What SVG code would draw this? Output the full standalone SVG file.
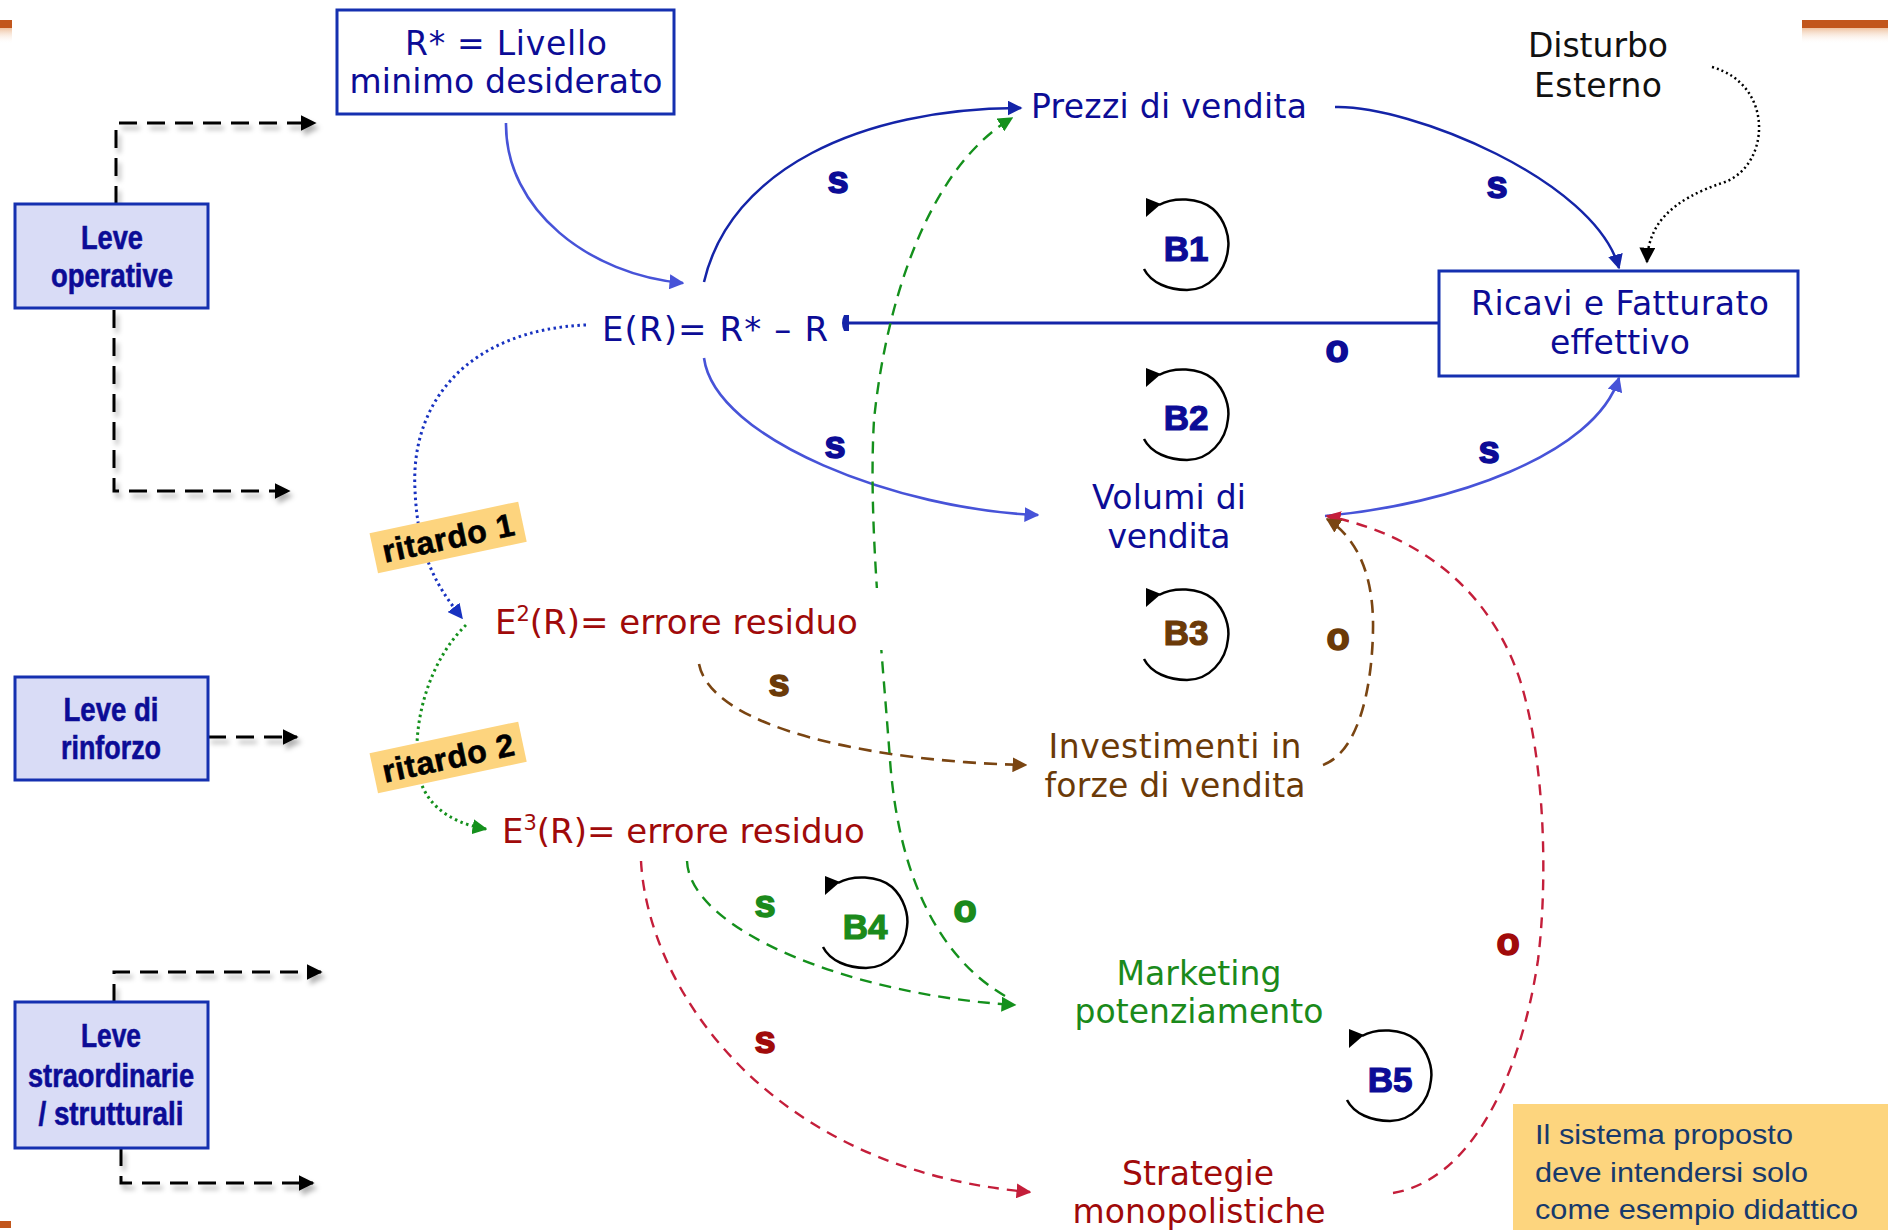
<svg xmlns="http://www.w3.org/2000/svg" xmlns:xlink="http://www.w3.org/1999/xlink" width="1888" height="1230" viewBox="0 0 1888 1230">
  <style>
    .v { font-family: "DejaVu Sans", Verdana, sans-serif; font-size: 33px; }
    .vb { font-family: "DejaVu Sans", Verdana, sans-serif; font-size: 34px; }
    .lev { font-family: "Liberation Sans", Arial, sans-serif; font-weight: bold; font-size: 33px; fill: #0c0c96; stroke: #0c0c96; stroke-width: 0.6; }
    .sign { font-family: "Liberation Sans", Arial, sans-serif; font-weight: bold; font-size: 38px; text-anchor: middle; stroke-width: 1.6; }
    .loopl { font-family: "Liberation Sans", Arial, sans-serif; font-weight: bold; font-size: 35px; text-anchor: middle; stroke-width: 1.2; }
    .navy { fill: #0c0c96; stroke: #0c0c96; }
    .red { fill: #a00a0a; stroke: #a00a0a; }
    .brown { fill: #6b3a08; stroke: #6b3a08; }
    .green { fill: #1b8a1b; stroke: #1b8a1b; }
    .v.navy, .v.red, .v.brown, .v.green, .vb.navy, .vb.red { stroke: none; }
    .mid { text-anchor: middle; }
    .box { fill: #ffffff; stroke: #1530b0; stroke-width: 3; }
    .lbox { fill: #d9dcf6; stroke: #1530b0; stroke-width: 3; }
    .lever { fill: none; stroke: #000; stroke-width: 3; stroke-dasharray: 18 10; }
    .solidDB { fill: none; stroke: #1424a8; stroke-width: 2.5; }
    .solidMB { fill: none; stroke: #4753d8; stroke-width: 2.6; }
    .dashBR { fill: none; stroke: #7a4512; stroke-width: 2.6; stroke-dasharray: 13 8; }
    .dashGR { fill: none; stroke: #14901c; stroke-width: 2.4; stroke-dasharray: 12 8; }
    .dashRD { fill: none; stroke: #c41e3a; stroke-width: 2.4; stroke-dasharray: 11 8; }
    .dot { fill: none; stroke-width: 3; stroke-dasharray: 2.5 3.5; }
    .tag { fill: #fdd47e; }
    .tagt { font-family: "Liberation Sans", Arial, sans-serif; font-weight: bold; font-size: 32px; fill: #000; stroke: #000; stroke-width: 0.6; text-anchor: middle; }
    .note { font-family: "Liberation Sans", Arial, sans-serif; font-size: 28px; fill: #173a6c; }
  </style>
  <defs>
    <marker id="aDB" viewBox="0 0 10 10" refX="9" refY="5" markerWidth="15" markerHeight="15" markerUnits="userSpaceOnUse" orient="auto"><path d="M0,0 L10,5 L0,10 z" fill="#1424a8"/></marker>
    <marker id="aMB" viewBox="0 0 10 10" refX="9" refY="5" markerWidth="15" markerHeight="15" markerUnits="userSpaceOnUse" orient="auto"><path d="M0,0 L10,5 L0,10 z" fill="#4753d8"/></marker>
    <marker id="aBK" viewBox="0 0 10 10" refX="9" refY="5" markerWidth="16" markerHeight="16" markerUnits="userSpaceOnUse" orient="auto"><path d="M0,0 L10,5 L0,10 z" fill="#000"/></marker>
    <marker id="aBR" viewBox="0 0 10 10" refX="9" refY="5" markerWidth="15" markerHeight="15" markerUnits="userSpaceOnUse" orient="auto"><path d="M0,0 L10,5 L0,10 z" fill="#7a4512"/></marker>
    <marker id="aGR" viewBox="0 0 10 10" refX="9" refY="5" markerWidth="15" markerHeight="15" markerUnits="userSpaceOnUse" orient="auto"><path d="M0,0 L10,5 L0,10 z" fill="#14901c"/></marker>
    <marker id="aRD" viewBox="0 0 10 10" refX="9" refY="5" markerWidth="15" markerHeight="15" markerUnits="userSpaceOnUse" orient="auto"><path d="M0,0 L10,5 L0,10 z" fill="#c41e3a"/></marker>
    <marker id="aBD" viewBox="0 0 10 10" refX="9" refY="5" markerWidth="15" markerHeight="15" markerUnits="userSpaceOnUse" orient="auto"><path d="M0,0 L10,5 L0,10 z" fill="#1832c0"/></marker>
    <filter id="shadow" filterUnits="userSpaceOnUse" x="0" y="0" width="1888" height="1230">
      <feDropShadow dx="3" dy="5" stdDeviation="2.5" flood-color="#000" flood-opacity="0.3"/>
    </filter>
    <linearGradient id="fade" x1="0" y1="0" x2="0" y2="1">
      <stop offset="0" stop-color="#e8a878" stop-opacity="0.7"/>
      <stop offset="1" stop-color="#ffffff" stop-opacity="0"/>
    </linearGradient>
    <!-- balancing-loop glyph, centred on 0,0 -->
    <g id="loop">
      <path d="M-28,-40 C-14,-48 12,-48 26,-36 C38,-25 43,-8 41,4 C39,26 22,45 0,45 C-18,45 -36,38 -43,24" fill="none" stroke="#000" stroke-width="2.5"/>
      <polygon points="-41,-47 -41,-28 -26,-41" fill="#000"/>
    </g>
  </defs>

  <rect width="1888" height="1230" fill="#ffffff"/>

  <!-- slide edge accents -->
  <g id="accents">
    <rect x="0" y="20" width="12" height="8" fill="#c2561c"/>
    <rect x="0" y="28" width="12" height="16" fill="url(#fade)"/>
    <rect x="1802" y="20" width="86" height="8" fill="#c2561c"/>
    <rect x="1802" y="28" width="86" height="16" fill="url(#fade)"/>
    <rect x="0" y="1221" width="11" height="7" fill="#c2561c"/>
  </g>

  <g id="connectors">
    <!-- lever arrows -->
    <g filter="url(#shadow)">
      <path class="lever" d="M116,204 V123 H315" marker-end="url(#aBK)"/>
      <path class="lever" d="M114,310 V491 H289" marker-end="url(#aBK)"/>
      <path class="lever" d="M208,737 H297" marker-end="url(#aBK)"/>
      <path class="lever" d="M114,1002 V972 H321" marker-end="url(#aBK)"/>
      <path class="lever" d="M121,1148 V1183 H313" marker-end="url(#aBK)"/>
    </g>
    <!-- main loop -->
    <path class="solidMB" d="M506,123 C505,210 590,275 683,283" marker-end="url(#aMB)"/>
    <path class="solidDB" d="M704,282 C730,170 860,108 1021,108" marker-end="url(#aDB)"/>
    <path class="solidDB" d="M1335,107 C1410,105 1595,180 1619,268" marker-end="url(#aDB)"/>
    <path d="M1712,67 C1775,85 1770,165 1725,182 C1670,200 1648,225 1647,262" fill="none" stroke="#000" stroke-width="2.5" stroke-dasharray="2 3" marker-end="url(#aBK)"/>
    <path d="M1439,323 H848" fill="none" stroke="#1424a8" stroke-width="3"/>
    <path d="M849,315 L849,331 L844,331 Q840,323 844,315 z" fill="#1424a8"/>
    <path class="solidMB" d="M704,358 C715,440 900,510 1038,515" marker-end="url(#aMB)"/>
    <path class="solidMB" d="M1325,516 C1450,505 1595,455 1619,378" stroke-width="3" marker-end="url(#aMB)"/>
    <!-- delays -->
    <path class="dot" stroke="#1832c0" d="M586,325 C470,330 410,400 415,490 C418,560 440,590 462,618" marker-end="url(#aBD)"/>
    <path class="dot" stroke="#14901c" d="M466,625 C430,660 412,720 418,770 C422,800 445,822 486,829" marker-end="url(#aGR)"/>
    <!-- secondary loops -->
    <path class="dashRD" d="M1393,1193 C1470,1180 1520,1080 1538,960 C1548,880 1545,760 1520,680 C1490,590 1420,535 1327,516" marker-end="url(#aRD)"/>
    <path class="dashBR" d="M699,664 C712,730 880,762 1026,765" marker-end="url(#aBR)"/>
    <path class="dashBR" d="M1323,765 C1358,752 1372,690 1373,630 C1374,580 1360,540 1327,519" marker-end="url(#aBR)"/>
    <path class="dashGR" d="M687,861 C690,930 850,995 1015,1005" marker-end="url(#aGR)"/>
    <path class="dashGR" d="M1005,996 C935,955 898,870 890,760 C882,650 868,520 874,420 C885,310 925,170 1012,118" marker-end="url(#aGR)"/>
    <path class="dashRD" d="M641,861 C648,990 770,1170 1030,1192" marker-end="url(#aRD)"/>
  </g>

  <!-- polarity signs -->
  <g id="signs">
    <text class="sign navy" x="838" y="193">s</text>
    <text class="sign navy" x="1497" y="198">s</text>
    <text class="sign navy" x="835" y="458">s</text>
    <text class="sign navy" x="1489" y="463">s</text>
    <text class="sign navy" x="1337" y="362">o</text>
    <text class="sign brown" x="779" y="696">s</text>
    <text class="sign brown" x="1338" y="650">o</text>
    <text class="sign green" x="765" y="917">s</text>
    <text class="sign green" x="965" y="922">o</text>
    <text class="sign red" x="765" y="1053">s</text>
    <text class="sign red" x="1508" y="955">o</text>
  </g>

  <!-- loop markers -->
  <g id="loop-B1"><use xlink:href="#loop" x="1187" y="245"/><text class="loopl navy" x="1186" y="261">B1</text></g>
  <g id="loop-B2"><use xlink:href="#loop" x="1187" y="415"/><text class="loopl navy" x="1186" y="430">B2</text></g>
  <g id="loop-B3"><use xlink:href="#loop" x="1187" y="635"/><text class="loopl brown" x="1186" y="645">B3</text></g>
  <g id="loop-B4"><use xlink:href="#loop" x="866" y="923"/><text class="loopl green" x="865" y="939">B4</text></g>
  <g id="loop-B5"><use xlink:href="#loop" x="1390" y="1076"/><text class="loopl navy" x="1390" y="1092">B5</text></g>

  <!-- delay tags -->
  <g id="ritardo-1" transform="translate(448,537) rotate(-12)">
    <rect class="tag" x="-76" y="-20" width="152" height="41"/>
    <text class="tagt" x="0" y="12" textLength="134">ritardo 1</text>
  </g>
  <g id="ritardo-2" transform="translate(448,757) rotate(-12)">
    <rect class="tag" x="-76" y="-20" width="152" height="41"/>
    <text class="tagt" x="0" y="12" textLength="134">ritardo 2</text>
  </g>

  <!-- lever boxes -->
  <g id="leve-operative">
    <rect class="lbox" x="15" y="204" width="193" height="104"/>
    <text class="lev mid" x="112" y="249" textLength="62" lengthAdjust="spacingAndGlyphs">Leve</text>
    <text class="lev mid" x="112" y="287" textLength="122" lengthAdjust="spacingAndGlyphs">operative</text>
  </g>
  <g id="leve-rinforzo">
    <rect class="lbox" x="15" y="677" width="193" height="103"/>
    <text class="lev mid" x="111" y="721" textLength="95" lengthAdjust="spacingAndGlyphs">Leve di</text>
    <text class="lev mid" x="111" y="759" textLength="100" lengthAdjust="spacingAndGlyphs">rinforzo</text>
  </g>
  <g id="leve-straordinarie">
    <rect class="lbox" x="15" y="1002" width="193" height="146"/>
    <text class="lev mid" x="111" y="1047" textLength="60" lengthAdjust="spacingAndGlyphs">Leve</text>
    <text class="lev mid" x="111" y="1087" textLength="166" lengthAdjust="spacingAndGlyphs">straordinarie</text>
    <text class="lev mid" x="111" y="1125" textLength="145" lengthAdjust="spacingAndGlyphs">/ strutturali</text>
  </g>

  <!-- variables -->
  <g id="r-star">
    <rect class="box" x="337" y="10" width="337" height="104"/>
    <text class="v navy mid" x="506" y="55" textLength="202">R* = Livello</text>
    <text class="v navy mid" x="506" y="93" textLength="313">minimo desiderato</text>
  </g>
  <g id="ricavi">
    <rect class="box" x="1439" y="271" width="359" height="105"/>
    <text class="v navy mid" x="1620" y="315" textLength="298">Ricavi e Fatturato</text>
    <text class="v navy mid" x="1620" y="354" textLength="140">effettivo</text>
  </g>
  <g id="disturbo">
    <text class="v mid" fill="#111" x="1598" y="57" textLength="140">Disturbo</text>
    <text class="v mid" fill="#111" x="1598" y="97" textLength="128">Esterno</text>
  </g>
  <g id="prezzi">
    <text class="v navy" x="1031" y="118" textLength="276">Prezzi di vendita</text>
  </g>
  <g id="errore">
    <text class="vb navy" x="602" y="341" textLength="226">E(R)= R* – R</text>
  </g>
  <g id="volumi">
    <text class="v navy mid" x="1169" y="509" textLength="154">Volumi di</text>
    <text class="v navy mid" x="1169" y="548" textLength="123">vendita</text>
  </g>
  <g id="errore-2">
    <rect x="490" y="588" width="395" height="62" fill="#ffffff"/>
    <text class="vb red" x="495" y="634">E<tspan font-size="21" dy="-13">2</tspan><tspan dy="13">(R)= errore residuo</tspan></text>
  </g>
  <g id="errore-3">
    <text class="vb red" x="502" y="843">E<tspan font-size="21" dy="-13">3</tspan><tspan dy="13">(R)= errore residuo</tspan></text>
  </g>
  <g id="investimenti">
    <text class="v brown mid" x="1175" y="758" textLength="253">Investimenti in</text>
    <text class="v brown mid" x="1175" y="797" textLength="261">forze di vendita</text>
  </g>
  <g id="marketing">
    <text class="v green mid" x="1199" y="985" textLength="165">Marketing</text>
    <text class="v green mid" x="1199" y="1023" textLength="249">potenziamento</text>
  </g>
  <g id="strategie">
    <text class="v red mid" x="1198" y="1185" textLength="152">Strategie</text>
    <text class="v red mid" x="1199" y="1223" textLength="253">monopolistiche</text>
  </g>

  <!-- disclaimer -->
  <g id="nota">
    <rect x="1513" y="1104" width="375" height="126" fill="#fdd57e"/>
    <text class="note" x="1535" y="1144" textLength="258" lengthAdjust="spacingAndGlyphs">Il sistema proposto</text>
    <text class="note" x="1535" y="1182" textLength="273" lengthAdjust="spacingAndGlyphs">deve intendersi solo</text>
    <text class="note" x="1535" y="1219" textLength="323" lengthAdjust="spacingAndGlyphs">come esempio didattico</text>
  </g>
</svg>
